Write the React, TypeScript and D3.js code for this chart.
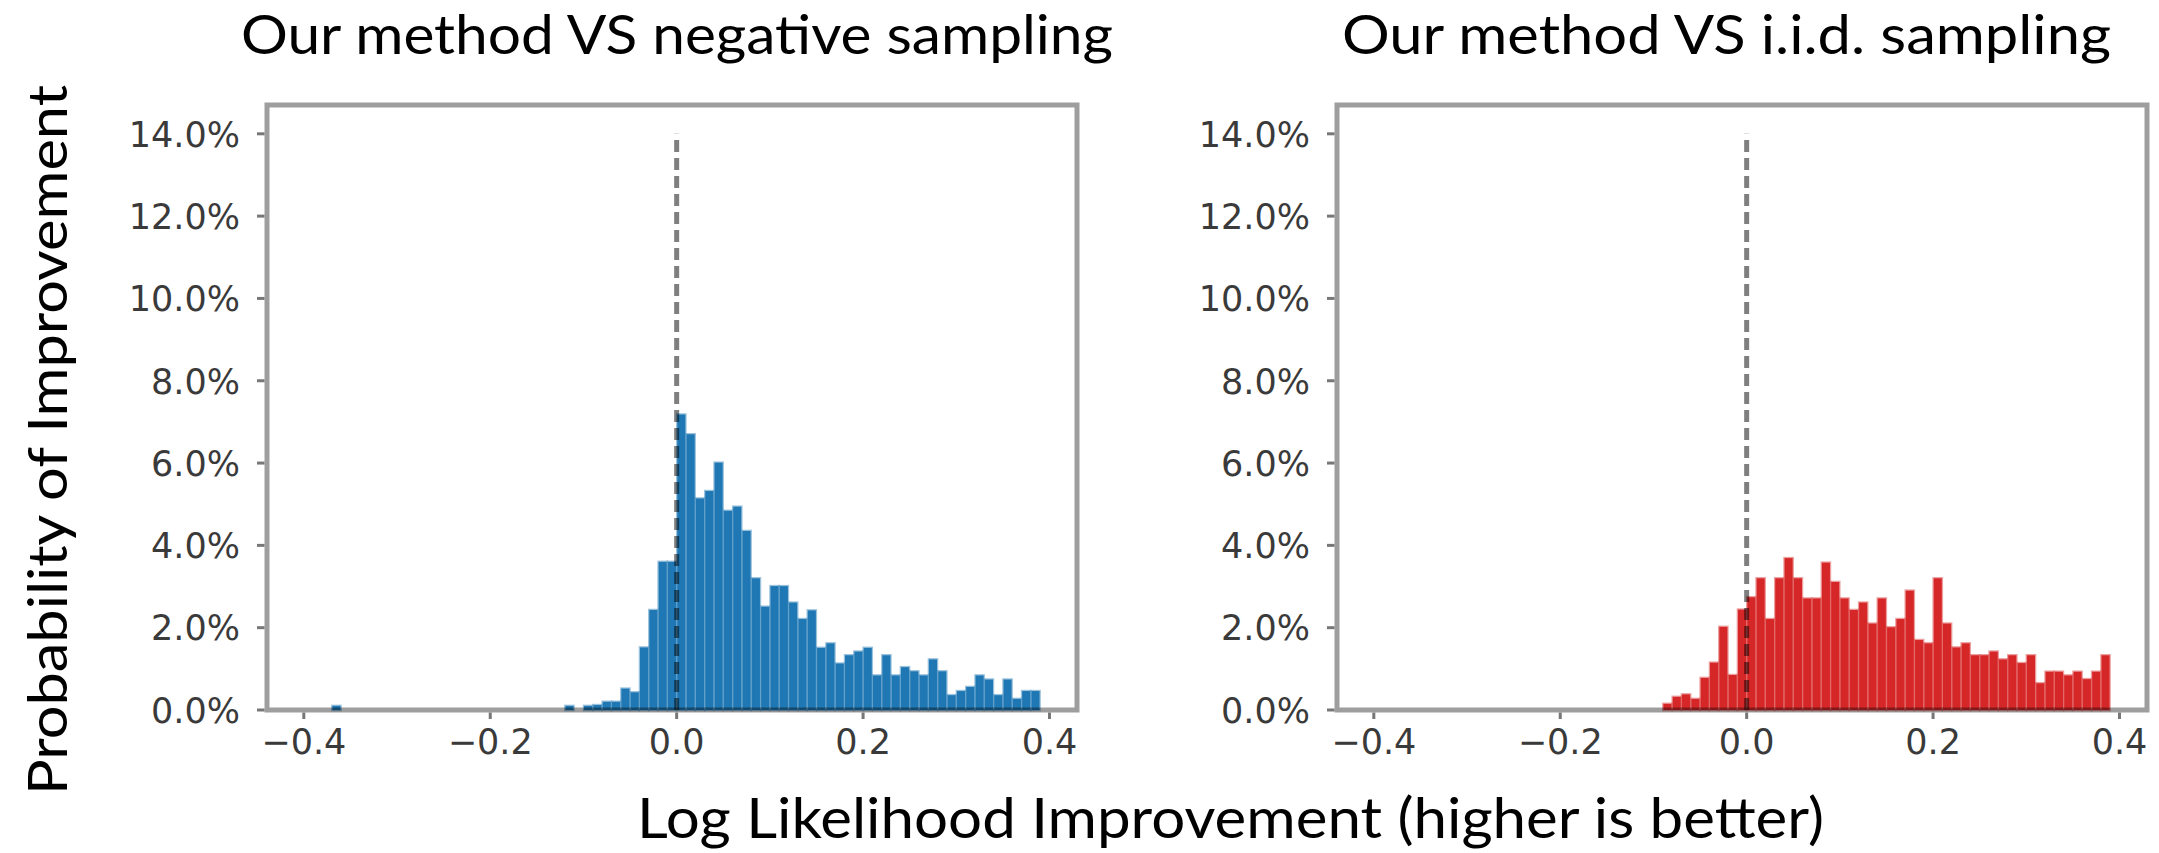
import React from 'react';
import * as d3 from 'd3';

// ---------- data ----------
const binWidth = 0.01;
const histRange: [number, number] = [-0.4, 0.39];
const yMaxPct = 14.7;

const yTicks = [0, 2, 4, 6, 8, 10, 12, 14];
const xTicks = [-0.4, -0.2, 0, 0.2, 0.4];

// left panel: contiguous bins starting at -0.12 (percent of samples)
const leftFirstBin = -0.12;
const leftPct = [
  0.10, 0.0, 0.10, 0.12, 0.20, 0.20, 0.52, 0.43, 1.52, 2.43, 3.60, 3.60,
  7.18, 6.70, 5.14, 5.32, 6.01, 4.84, 4.94, 4.35, 3.20, 2.51,
  3.01, 3.01, 2.61, 2.21, 2.42, 1.51, 1.62, 1.13, 1.33, 1.42,
  1.51, 0.84, 1.33, 0.84, 1.04, 0.94, 0.84, 1.23, 0.94, 0.36,
  0.46, 0.56, 0.84, 0.74, 0.36, 0.74, 0.27, 0.46, 0.46,
];
const leftOutlierBins = [-0.37];
const leftOutlierPct = [0.10];

// right panel: contiguous bins starting at -0.09
const rightFirstBin = -0.09;
const rightPct = [
  0.15, 0.32, 0.38, 0.27, 0.78, 1.15, 2.02, 0.85, 2.44,
  2.74, 3.20, 2.21, 3.20, 3.69, 3.20, 2.71, 2.71, 3.58, 3.11,
  2.71, 2.43, 2.61, 2.10, 2.71, 2.01, 2.21, 2.90, 1.70, 1.62,
  3.20, 2.10, 1.52, 1.62, 1.33, 1.33, 1.42, 1.23, 1.33, 1.14,
  1.33, 0.65, 0.93, 0.93, 0.84, 0.93, 0.75, 0.93, 1.33,
];

const titles = ['Our method VS negative sampling', 'Our method VS i.i.d. sampling'];
const colors = ['#1f77b4', '#d62728'];
const xLabel = 'Log Likelihood Improvement (higher is better)';
const yLabel = 'Probability of Improvement';

// ---------- layout ----------
const W = 2159;
const H = 853;
const panels = [
  { x0: 267, x1: 1077, titleX0: 241, titleX1: 1113 },
  { x0: 1337, x1: 2147, titleX0: 1342, titleX1: 2111 },
];
const plotTop = 105;
const plotBottom = 710;
const labelFont = 'Lato, "Open Sans", sans-serif';
const tickFont = '"DejaVu Sans", sans-serif';

type Bin = { x0: number; pct: number };

const makeBins = (first: number, pcts: number[]): Bin[] =>
  pcts.map((p, i) => ({ x0: +(first + i * binWidth).toFixed(2), pct: p }));

const leftBins: Bin[] = makeBins(leftFirstBin, leftPct).concat(
  leftOutlierBins.map((b, i) => ({ x0: b, pct: leftOutlierPct[i] }))
);
const rightBins: Bin[] = makeBins(rightFirstBin, rightPct);
const panelBins = [leftBins, rightBins];

const fmtX = (v: number) => {
  const s = Math.abs(v).toFixed(1);
  return v < -1e-9 ? '\u2212' + s : s;
};
const fmtY = (v: number) => v.toFixed(1) + '%';

function Panel({ idx }: { idx: number }) {
  const p = panels[idx];
  const pad = 0.05 * (histRange[1] - histRange[0]);
  const xs = d3.scaleLinear().domain([histRange[0] - pad, histRange[1] + pad]).range([p.x0, p.x1]);
  const ys = d3.scaleLinear().domain([0, yMaxPct]).range([plotBottom, plotTop]);
  const color = colors[idx];
  const bins = panelBins[idx];

  return (
    <g>
      {bins.filter((b) => b.pct > 0).map((b, i) => {
        const xa = xs(b.x0);
        const xb = xs(b.x0 + binWidth);
        return (
          <rect
            key={i}
            x={xa + 0.6}
            width={xb - xa - 1.2}
            y={ys(b.pct)}
            height={ys(0) - ys(b.pct)}
            fill={color}
            stroke={color}
            strokeOpacity={0.45}
            strokeWidth={2.5}
          />
        );
      })}
      {/* dashed zero line */}
      <line
        x1={xs(0)}
        x2={xs(0)}
        y1={ys(0)}
        y2={ys(14)}
        stroke="#000"
        strokeOpacity={0.5}
        strokeWidth={5}
        strokeDasharray="12 6"
      />
      {/* spines */}
      <rect
        x={p.x0}
        y={plotTop}
        width={p.x1 - p.x0}
        height={plotBottom - plotTop}
        fill="none"
        stroke="#000"
        strokeOpacity={0.38}
        strokeWidth={5}
      />
      {/* y ticks */}
      {yTicks.map((t) => (
        <g key={'y' + t}>
          <line x1={p.x0 - 2.5} x2={p.x0 - 10} y1={ys(t)} y2={ys(t)} stroke="#777" strokeWidth={3} />
          <text
            x={p.x0 - 27}
            y={ys(t) + 12.8}
            textAnchor="end"
            fontFamily={tickFont}
            fontSize={35}
            fill="#3a3a3a"
          >
            {fmtY(t)}
          </text>
        </g>
      ))}
      {/* x ticks */}
      {xTicks.map((t) => (
        <g key={'x' + t}>
          <line x1={xs(t)} x2={xs(t)} y1={plotBottom + 2.5} y2={plotBottom + 9} stroke="#777" strokeWidth={3} />
          <text
            x={xs(t)}
            y={754}
            textAnchor="middle"
            fontFamily={tickFont}
            fontSize={35}
            fill="#3a3a3a"
          >
            {fmtX(t)}
          </text>
        </g>
      ))}
      <text
        x={(p.titleX0 + p.titleX1) / 2}
        y={54}
        textAnchor="middle"
        fontFamily={labelFont}
        fontSize={55}
        fill="#000"
        textLength={p.titleX1 - p.titleX0}
        lengthAdjust="spacingAndGlyphs"
      >
        {titles[idx]}
      </text>
    </g>
  );
}

export default function App() {
  return (
    <svg
      width={W}
      height={H}
      viewBox={`0 0 ${W} ${H}`}
      style={{ position: 'absolute', left: 0, top: 0, background: '#fff' }}
    >
      <rect x={0} y={0} width={W} height={H} fill="#fff" />
      <Panel idx={0} />
      <Panel idx={1} />
      <text
        x={(637 + 1824) / 2}
        y={838}
        textAnchor="middle"
        fontFamily={labelFont}
        fontSize={56}
        fill="#000"
        textLength={1824 - 637}
        lengthAdjust="spacingAndGlyphs"
      >
        {xLabel}
      </text>
      <text
        transform={`translate(48, 440) rotate(-90)`}
        textAnchor="middle"
        dy="0.36em"
        fontFamily={labelFont}
        fontSize={54}
        fill="#000"
        textLength={710}
        lengthAdjust="spacingAndGlyphs"
      >
        {yLabel}
      </text>
    </svg>
  );
}
